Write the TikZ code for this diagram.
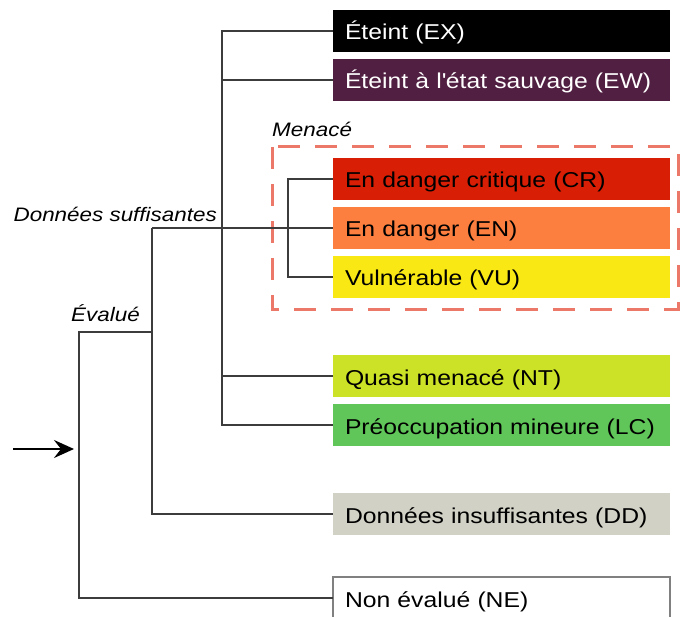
\documentclass[tikz,border=0pt]{standalone}
\usepackage{fontspec}
\setmainfont{Liberation Sans}[FakeStretch=1.15]
\usetikzlibrary{arrows.meta}
\definecolor{colEX}{RGB}{0,0,0}
\definecolor{colEW}{RGB}{81,31,65}
\definecolor{colCR}{RGB}{216,30,5}
\definecolor{colEN}{RGB}{252,127,63}
\definecolor{colVU}{RGB}{249,232,20}
\definecolor{colNT}{RGB}{204,226,38}
\definecolor{colLC}{RGB}{96,198,89}
\definecolor{colDD}{RGB}{209,209,198}
\definecolor{trait}{RGB}{60,60,60}
\definecolor{tirets}{RGB}{236,120,105}
\tikzset{
	every picture/.style={x=1pt,y=-1pt},
	box/.style={anchor=west,minimum height=42pt,text width=313pt,inner xsep=12pt,inner ysep=0pt,
		align=left,outer sep=0pt,text height=22pt,text depth=4pt,font=\fontsize{21.5}{24}\selectfont},
	etiquette/.style={inner sep=0pt,font=\fontsize{19.5}{22}\selectfont\itshape},
	ligne/.style={draw=trait,line width=2.4pt},
}

\begin{document}
\begin{tikzpicture}
	\useasboundingbox (0,0) rectangle (682,617);
	
	% Menace frame.....................
	\draw [draw=tirets,line width=3pt,dash pattern=on 22pt off 15pt] (272,147) rectangle (678,310);
	
	% categories.......................
	\node [box,fill=colEX,text=white] (ex) at (333,31) {Éteint (EX)};
	\node [box,fill=colEW,text=white] (ew) at (333,80) {Éteint à l\textquotesingle état sauvage (EW)};
	\node [box,fill=colCR] (cr) at (333,179) {En danger critique (CR)};
	\node [box,fill=colEN] (en) at (333,228) {En danger (EN)};
	\node [box,fill=colVU] (vu) at (333,277) {Vulnérable (VU)};
	\node [box,fill=colNT] (nt) at (333,376) {Quasi menacé (NT)};
	\node [box,fill=colLC] (lc) at (333,425) {Préoccupation mineure (LC)};
	\node [box,fill=colDD] (dd) at (333,514) {Données insuffisantes (DD)};
	\node [box,fill=white,draw=gray,line width=1.5pt] (ne) at (333,598) {Non évalué (NE)};
	
	% labels...........................
	\node [etiquette,anchor=base west] (menace) at (272,137) {Menacé};
	\node [etiquette,anchor=base east] (suffisantes) at (217,222) {Données suffisantes};
	\node [etiquette,anchor=base east] (evalue) at (140,321) {Évalué};
	
	% tree.............................
	\coordinate (suff) at (152,228);
	\coordinate (eval) at (79,332);
	\draw [ligne] (ex.west) -- ++(-111,0) |- (lc.west);
	\draw [ligne] (ew.west) -- ++(-111,0);
	\draw [ligne] (nt.west) -- ++(-111,0);
	\draw [ligne] (cr.west) -- ++(-45,0) |- (vu.west);
	\draw [ligne] (suff) -- (en.west);
	\draw [ligne] (suff) |- (dd.west);
	\draw [ligne] (suff |- eval) -- (eval) |- (ne.west);
	
	% entry arrow......................
	\coordinate (entree) at (13,449);
	\coordinate (pointe) at (74,449);
	\draw [ligne,draw=black,-{Stealth[length=20pt,width=18pt,inset=7pt]}] (entree) -- (pointe);
\end{tikzpicture}
\end{document}
